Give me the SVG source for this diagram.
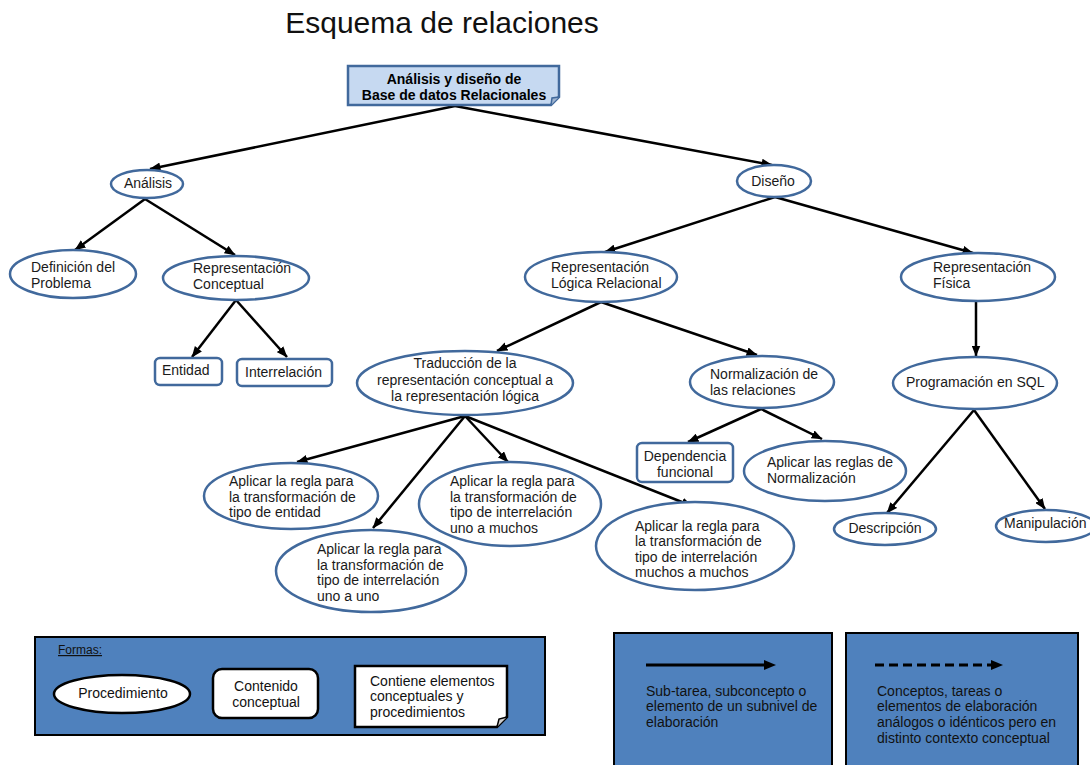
<svg xmlns="http://www.w3.org/2000/svg" width="1090" height="765" viewBox="0 0 1090 765">
<defs>
<style>
.t{font-family:"Liberation Sans",Arial,sans-serif;font-size:14px;fill:#1a1a1a}
.m{text-anchor:middle}
.b{font-weight:bold;fill:#000}
.e{fill:#fff;stroke:#41699c;stroke-width:2.5}
.r{fill:#fff;stroke:#41699c;stroke-width:2.5}
.a{stroke:#000;stroke-width:2.5;fill:none;marker-end:url(#ah)}
.lg{fill:#4f81bd;stroke:#000;stroke-width:2}
.lw{fill:#fff;stroke:#000;stroke-width:2.5}
.lt{font-family:"Liberation Sans",Arial,sans-serif;font-size:14px;fill:#111}
</style>
<marker id="ah" viewBox="0 0 10 8" markerUnits="userSpaceOnUse" markerWidth="11" markerHeight="9" refX="9.5" refY="4" orient="auto">
<path d="M0,0 L10,4 L0,8 Z" fill="#000"/>
</marker>
</defs>
<rect width="1090" height="765" fill="#fff"/>
<text x="442" y="33" class="t m" style="font-size:30px;fill:#111">Esquema de relaciones</text>

<g id="connectors">
<line class="a" x1="455" y1="106" x2="150" y2="169"/>
<line class="a" x1="455" y1="106" x2="772" y2="165"/>
<line class="a" x1="145" y1="199" x2="75" y2="250"/>
<line class="a" x1="145" y1="199" x2="235" y2="255"/>
<line class="a" x1="236" y1="300" x2="192" y2="357"/>
<line class="a" x1="236" y1="300" x2="287" y2="357"/>
<line class="a" x1="775" y1="197" x2="605" y2="252"/>
<line class="a" x1="775" y1="197" x2="973" y2="253"/>
<line class="a" x1="976" y1="302" x2="976" y2="356"/>
<line class="a" x1="601" y1="302" x2="497" y2="351"/>
<line class="a" x1="601" y1="302" x2="757" y2="355"/>
<line class="a" x1="761" y1="409" x2="688" y2="442"/>
<line class="a" x1="761" y1="409" x2="822" y2="439"/>
<line class="a" x1="974" y1="410" x2="887" y2="513"/>
<line class="a" x1="974" y1="410" x2="1045" y2="509"/>
<line class="a" x1="465" y1="416" x2="297" y2="462"/>
<line class="a" x1="465" y1="416" x2="373" y2="528"/>
<line class="a" x1="465" y1="416" x2="508" y2="462"/>
<line class="a" x1="465" y1="416" x2="692" y2="506"/>
</g>

<g id="n-root">
<path d="M348,66 H559 V97 L551,105 H348 Z" fill="#c6d9f1" stroke="#41699c" stroke-width="2.5"/>
<path d="M559,97 L552,98 L551,105" fill="#9db3d0" stroke="#41699c" stroke-width="1.5"/>
<text x="454" y="84" class="t m b">Análisis y diseño de</text>
<text x="454" y="100" class="t m b">Base de datos Relacionales</text>
</g>

<g id="n-analisis">
<ellipse class="e" cx="147" cy="184" rx="36" ry="14"/>
<text x="148" y="188" class="t m">Análisis</text>
</g>
<g id="n-diseno">
<ellipse class="e" cx="774" cy="181" rx="37" ry="16"/>
<text x="773" y="186" class="t m">Diseño</text>
</g>
<g id="n-definicion">
<ellipse class="e" cx="73" cy="274" rx="63" ry="24"/>
<text x="31" y="272" class="t">Definición del</text>
<text x="31" y="288" class="t">Problema</text>
</g>
<g id="n-repconceptual">
<ellipse class="e" cx="236" cy="278" rx="73" ry="22"/>
<text x="193" y="273" class="t">Representación</text>
<text x="193" y="289" class="t">Conceptual</text>
</g>
<g id="n-entidad">
<rect class="r" x="155" y="358" width="67" height="27" rx="5"/>
<text x="162" y="375" class="t">Entidad</text>
</g>
<g id="n-interrelacion">
<rect class="r" x="237" y="359" width="95" height="27" rx="5"/>
<text x="245" y="377" class="t">Interrelación</text>
</g>
<g id="n-replogica">
<ellipse class="e" cx="601" cy="277" rx="76" ry="25"/>
<text x="551" y="272" class="t">Representación</text>
<text x="551" y="288" class="t">Lógica Relacional</text>
</g>
<g id="n-repfisica">
<ellipse class="e" cx="978" cy="277" rx="77" ry="24"/>
<text x="933" y="272" class="t">Representación</text>
<text x="933" y="288" class="t">Física</text>
</g>
<g id="n-sql">
<ellipse class="e" cx="975" cy="383" rx="82" ry="26"/>
<text x="906" y="387" class="t">Programación en SQL</text>
</g>
<g id="n-traduccion">
<ellipse class="e" cx="465" cy="383" rx="108" ry="32"/>
<text x="465" y="368" class="t m">Traducción de la</text>
<text x="465" y="385" class="t m">representación conceptual a</text>
<text x="465" y="401" class="t m">la representación lógica</text>
</g>
<g id="n-normalizacion">
<ellipse class="e" cx="762" cy="382" rx="72" ry="26"/>
<text x="710" y="379" class="t">Normalización de</text>
<text x="710" y="395" class="t">las relaciones</text>
</g>
<g id="n-dependencia">
<rect class="r" x="637" y="443" width="96" height="39" rx="5"/>
<text x="685" y="461" class="t m">Dependencia</text>
<text x="685" y="477" class="t m">funcional</text>
</g>
<g id="n-reglasnorm">
<ellipse class="e" cx="825" cy="471" rx="81" ry="30"/>
<text x="767" y="467" class="t">Aplicar las reglas de</text>
<text x="767" y="483" class="t">Normalización</text>
</g>
<g id="n-descripcion">
<ellipse class="e" cx="885" cy="529" rx="51" ry="16"/>
<text x="885" y="533" class="t m">Descripción</text>
</g>
<g id="n-manipulacion">
<ellipse class="e" cx="1046" cy="526" rx="50" ry="16"/>
<text x="1004" y="528" class="t">Manipulación</text>
</g>
<g id="n-entidadregla">
<ellipse class="e" cx="291" cy="496" rx="87" ry="33"/>
<text x="229" y="486" class="t">Aplicar la regla para</text>
<text x="229" y="502" class="t">la transformación de</text>
<text x="229" y="517" class="t">tipo de entidad</text>
</g>
<g id="n-unouno">
<ellipse class="e" cx="371" cy="571" rx="95" ry="41"/>
<text x="317" y="554" class="t">Aplicar la regla para</text>
<text x="317" y="570" class="t">la transformación de</text>
<text x="317" y="585" class="t">tipo de interrelación</text>
<text x="317" y="601" class="t">uno a uno</text>
</g>
<g id="n-unomuchos">
<ellipse class="e" cx="510" cy="504" rx="91" ry="42"/>
<text x="450" y="486" class="t">Aplicar la regla para</text>
<text x="450" y="502" class="t">la transformación de</text>
<text x="450" y="517" class="t">tipo de interrelación</text>
<text x="450" y="533" class="t">uno a muchos</text>
</g>
<g id="n-muchosmuchos">
<ellipse class="e" cx="695" cy="546" rx="99" ry="44"/>
<text x="635" y="531" class="t">Aplicar la regla para</text>
<text x="635" y="546" class="t">la transformación de</text>
<text x="635" y="562" class="t">tipo de interrelación</text>
<text x="635" y="577" class="t">muchos a muchos</text>
</g>

<g id="legend-formas">
<rect class="lg" x="35" y="637" width="510" height="98"/>
<text x="58" y="654" class="lt" style="font-size:12px;text-decoration:underline">Formas:</text>
<ellipse class="lw" cx="122" cy="694" rx="68" ry="19"/>
<text x="123" y="698" class="lt m">Procedimiento</text>
<rect class="lw" x="213" y="669" width="105" height="49" rx="9"/>
<text x="266" y="691" class="lt m">Contenido</text>
<text x="266" y="707" class="lt m">conceptual</text>
<path class="lw" d="M355,666 H507 V717 L497,727 H355 Z"/>
<path d="M507,717 L499,719 L497,727" fill="#ccc" stroke="#000" stroke-width="1.5"/>
<text x="370" y="686" class="lt">Contiene elementos</text>
<text x="370" y="701" class="lt">conceptuales y</text>
<text x="370" y="717" class="lt">procedimientos</text>
</g>
<g id="legend-solid">
<rect class="lg" x="614" y="633" width="218" height="140"/>
<line x1="646" y1="665" x2="766" y2="665" stroke="#000" stroke-width="3"/>
<path d="M764,660 L776,665 L764,670 Z" fill="#000"/>
<text x="646" y="696" class="lt">Sub-tarea, subconcepto o</text>
<text x="646" y="711" class="lt">elemento de un subnivel de</text>
<text x="646" y="727" class="lt">elaboración</text>
</g>
<g id="legend-dashed">
<rect class="lg" x="846" y="633" width="232" height="140"/>
<line x1="875" y1="665" x2="993" y2="665" stroke="#000" stroke-width="3" stroke-dasharray="9,5"/>
<path d="M991,660 L1003,665 L991,670 Z" fill="#000"/>
<text x="877" y="696" class="lt">Conceptos, tareas o</text>
<text x="877" y="711" class="lt">elementos de elaboración</text>
<text x="877" y="727" class="lt">análogos o idénticos pero en</text>
<text x="877" y="743" class="lt">distinto  contexto conceptual</text>
</g>
</svg>
